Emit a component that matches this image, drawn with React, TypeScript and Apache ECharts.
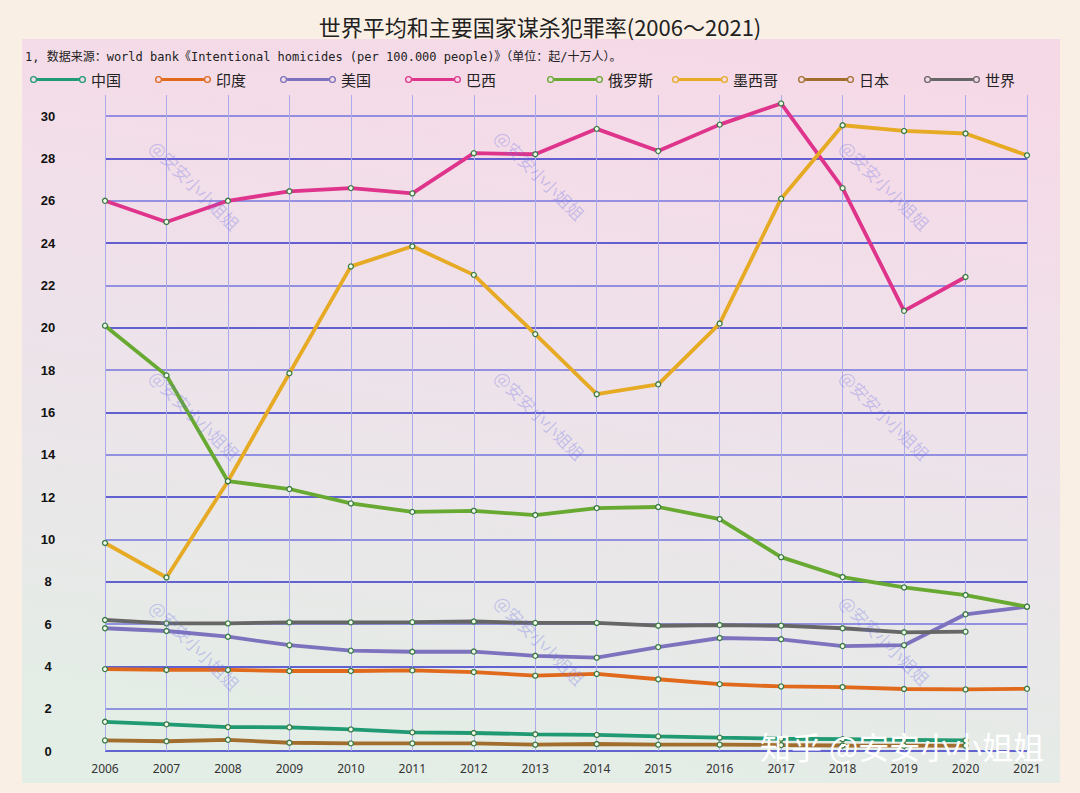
import React, { useEffect, useRef } from "react";
import * as echarts from "echarts";

const years = ["2006","2007","2008","2009","2010","2011","2012","2013","2014","2015","2016","2017","2018","2019","2020","2021"];
const seriesNames = ["中国","印度","美国","巴西","俄罗斯","墨西哥","日本","世界"];
const seriesColors = ["#1f9a72","#e0691c","#7d72bd","#df348c","#67a931","#e6aa24","#a26e2e","#666666"];
const china = [1.38,1.26,1.13,1.12,1.02,0.88,0.85,0.79,0.76,0.69,0.63,0.58,0.56,0.53,0.5,null];
const india = [3.87,3.83,3.83,3.78,3.78,3.81,3.73,3.56,3.64,3.39,3.16,3.05,3.02,2.93,2.91,2.94];
const usa = [5.8,5.67,5.4,5.0,4.74,4.69,4.7,4.5,4.41,4.91,5.34,5.28,4.96,5.0,6.46,6.82];
const brazil = [26.0,25.0,26.0,26.45,26.6,26.35,28.25,28.2,29.4,28.35,29.6,30.6,26.6,20.8,22.4,null];
const russia = [20.1,17.75,12.75,12.38,11.7,11.3,11.35,11.15,11.48,11.53,10.96,9.16,8.22,7.73,7.37,6.82];
const mexico = [9.83,8.2,12.75,17.85,22.9,23.85,22.5,19.7,16.86,17.33,20.2,26.1,29.57,29.3,29.18,28.15];
const japan = [0.5,0.46,0.53,0.39,0.36,0.36,0.36,0.3,0.33,0.3,0.3,0.28,0.26,0.25,0.25,null];
const world = [6.19,6.03,6.03,6.08,6.08,6.09,6.12,6.05,6.05,5.92,5.95,5.92,5.8,5.61,5.64,null];
const seriesData = [china, india, usa, brazil, russia, mexico, japan, world];

const titleText = "世界平均和主要国家谋杀犯罪率(2006～2021)";
const noteText = "1, 数据来源：world bank《Intentional homicides (per 100.000 people)》（单位：起/十万人）。";
const watermarkText = "@安安小小姐姐";
const zhihuText = "知乎 @安安小小姐姐";

const legendLefts = [30, 155, 280, 405, 547, 672, 798, 924];
const wmCenters = [
  [195, 185], [540, 175], [885, 185],
  [195, 415], [540, 415], [885, 415],
  [195, 645], [540, 640], [885, 640],
];

// legend icon: ring - bar - ring
const legendIcon =
  "path://M0.5,4 A3.5,3.5 0 1,1 7.5,4 A3.5,3.5 0 1,1 0.5,4 Z " +
  "M1.8,4 A2.2,2.2 0 1,0 6.2,4 A2.2,2.2 0 1,0 1.8,4 Z " +
  "M7.5,2.5 L48.5,2.5 L48.5,5.5 L7.5,5.5 Z " +
  "M48.5,4 A3.5,3.5 0 1,1 55.5,4 A3.5,3.5 0 1,1 48.5,4 Z " +
  "M49.8,4 A2.2,2.2 0 1,0 54.2,4 A2.2,2.2 0 1,0 49.8,4 Z";

export default function App() {
  const ref = useRef<HTMLDivElement>(null);
  useEffect(() => {
    if (!ref.current) return;
    const chart = echarts.init(ref.current, null, { renderer: "svg" });
    const cjk = "'Noto Sans CJK SC', 'Noto Sans', sans-serif";

    const graphics: any[] = [
      {
        type: "rect",
        z: -100,
        silent: true,
        shape: { x: 22, y: 39, width: 1038, height: 744 },
        style: {
          fill: new echarts.graphic.LinearGradient(0.6, 0, 0.4, 1, [
            { offset: 0, color: "#f6d9e7" },
            { offset: 0.5, color: "#ede3ea" },
            { offset: 1, color: "#e3eee6" },
          ]),
        },
      },
    ];
    wmCenters.forEach(([x, y]) => {
      graphics.push({
        type: "text",
        x,
        y,
        rotation: -Math.PI / 4,
        silent: true,
        z: 50,
        style: {
          text: watermarkText,
          fontSize: 17,
          fontFamily: cjk,
          fill: "rgba(110,110,230,0.32)",
          align: "center",
          verticalAlign: "middle",
        },
      });
    });
    graphics.push({
      type: "text",
      x: 760,
      y: 745,
      silent: true,
      z: 60,
      style: {
        text: zhihuText,
        fontSize: 31,
        fontFamily: cjk,
        fill: "#ffffff",
        verticalAlign: "middle",
        shadowColor: "rgba(0,0,0,0.55)",
        shadowBlur: 3,
        shadowOffsetX: 1,
        shadowOffsetY: 1,
      },
    });

    chart.setOption({
      animation: false,
      backgroundColor: "#faefe5",
      title: [
        {
          text: titleText,
          left: "center",
          top: 10,
          textStyle: { fontSize: 22, fontWeight: "normal", color: "#222", fontFamily: cjk },
        },
        {
          text: noteText,
          left: 20,
          top: 46,
          textStyle: { fontSize: 12, fontWeight: "normal", color: "#222", fontFamily: "'DejaVu Sans Mono', 'Noto Sans CJK SC', monospace" },
        },
      ],
      legend: seriesNames.map((name, i) => ({
        left: legendLefts[i],
        top: 72,
        itemWidth: 56,
        itemHeight: 8,
        itemGap: 0,
        padding: 0,
        icon: legendIcon,
        textStyle: { fontSize: 15, color: "#222", fontFamily: cjk },
        data: [{ name, itemStyle: { color: seriesColors[i], borderWidth: 0 } }],
      })),
      graphic: graphics,
      grid: { left: 105, right: 53, top: 95, bottom: 42 },
      xAxis: {
        type: "category",
        data: years,
        boundaryGap: false,
        axisLine: { show: false },
        axisTick: { show: false },
        axisLabel: { fontSize: 12, color: "#333", margin: 11, fontFamily: "'Noto Sans', sans-serif" },
        splitLine: { show: true, lineStyle: { color: "#ababeb", width: 1 } },
      },
      yAxis: {
        type: "value",
        min: 0,
        max: 31,
        interval: 2,
        axisLine: { show: false },
        axisTick: { show: false },
        axisLabel: {
          showMaxLabel: false,
          fontSize: 13,
          fontWeight: "bold",
          color: "#111",
          align: "center",
          margin: 57,
          fontFamily: "'Liberation Sans', Arial, sans-serif",
        },
        splitLine: {
          show: true,
          showMaxLine: false,
          lineStyle: { color: ["#3434c8", "#7474de"], width: 1.5 },
        },
      },
      series: seriesNames.map((name, i) => ({
        name,
        type: "line",
        data: seriesData[i],
        symbol: "circle",
        symbolSize: 5,
        showSymbol: true,
        connectNulls: false,
        lineStyle: { color: seriesColors[i], width: 3.8 },
        itemStyle: { color: "#f2fbe9", borderColor: "#3b7a47", borderWidth: 1.3 },
        emphasis: { disabled: true },
        z: 3,
      })),
    });
    return () => chart.dispose();
  }, []);
  return <div ref={ref} style={{ width: 1080, height: 793, position: "absolute", left: 0, top: 0 }} />;
}
